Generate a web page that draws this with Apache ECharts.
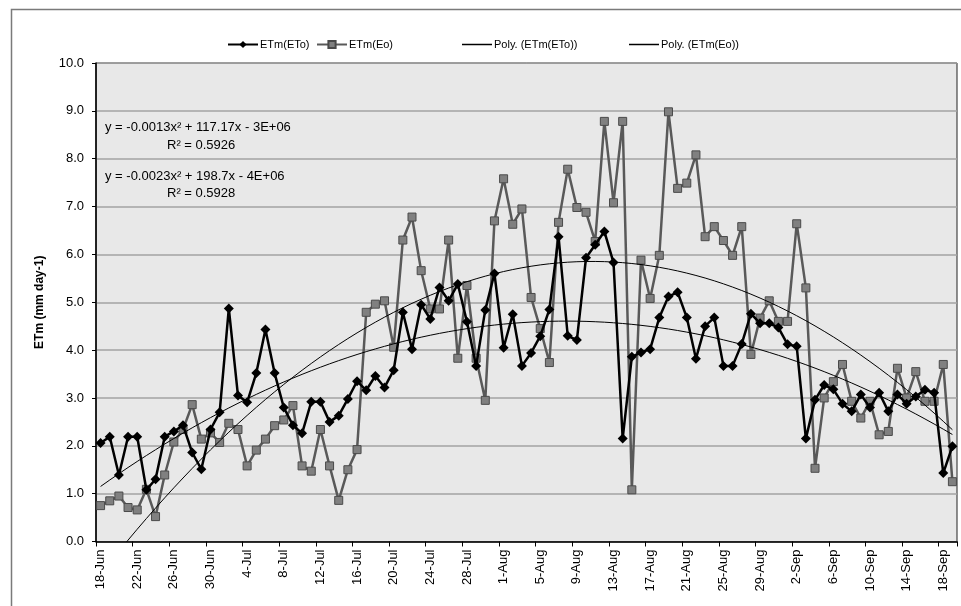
<!DOCTYPE html>
<html><head><meta charset="utf-8">
<script src="https://cdn.jsdelivr.net/npm/echarts@6/dist/echarts.min.js"></script>
<style>html,body{margin:0;padding:0;background:#fff}#c{width:961px;height:606px}</style>
</head><body><div id="c"></div>
<script>
// Categories: daily dates 18-Jun .. 19-Sep
const startDate = [6, 18]; // month, day
const monthNames = ['Jan','Feb','Mar','Apr','May','Jun','Jul','Aug','Sep','Oct','Nov','Dec'];
const nDays = 94;
const categories = [];
(function(){
  const d = new Date(2012, startDate[0]-1, startDate[1]);
  for (let i = 0; i < nDays; i++) {
    categories.push(d.getDate() + '-' + monthNames[d.getMonth()]);
    d.setDate(d.getDate() + 1);
  }
})();

const etmETo = [2.06,2.19,1.39,2.19,2.19,1.08,1.30,2.19,2.30,2.43,1.86,1.51,2.34,2.70,4.87,3.05,2.91,3.52,4.43,3.52,
  2.80,2.43,2.26,2.92,2.92,2.50,2.63,2.98,3.35,3.16,3.46,3.22,3.58,4.79,4.02,4.95,4.65,5.31,5.03,5.38,
  4.59,3.67,4.84,5.60,4.05,4.75,3.67,3.94,4.29,4.85,6.37,4.30,4.21,5.93,6.20,6.48,5.83,2.15,3.86,3.95,
  4.02,4.68,5.12,5.21,4.68,3.82,4.50,4.68,3.67,3.67,4.13,4.76,4.56,4.56,4.47,4.12,4.08,2.15,2.96,3.27,
  3.18,2.88,2.72,3.07,2.80,3.11,2.72,3.07,2.88,3.03,3.17,3.11,1.43,1.99];

const etmEo = [0.75,0.85,0.95,0.71,0.66,1.09,0.52,1.39,2.08,2.34,2.86,2.14,2.27,2.07,2.47,2.34,1.58,1.91,2.14,2.42,
  2.54,2.84,1.58,1.47,2.34,1.58,0.86,1.50,1.92,4.79,4.96,5.03,4.06,6.30,6.78,5.66,4.86,4.86,6.30,3.83,
  5.35,3.83,2.95,6.70,7.58,6.63,6.95,5.10,4.45,3.74,6.67,7.78,6.98,6.88,6.27,8.78,7.08,8.78,1.08,5.88,
  5.08,5.98,8.98,7.38,7.49,8.08,6.37,6.58,6.29,5.98,6.58,3.91,4.67,5.03,4.60,4.60,6.64,5.30,1.53,3.00,
  3.34,3.70,2.93,2.58,2.93,2.23,2.30,3.62,3.00,3.55,2.93,2.93,3.70,1.25];

const seriesNames = ['ETm(ETo)', 'ETm(Eo)', 'Poly. (ETm(ETo))', 'Poly. (ETm(Eo))'];
const yTicks = [0,1,2,3,4,5,6,7,8,9,10];
const equationLines = ['y = -0.0013x² + 117.17x - 3E+06', 'R² = 0.5926', 'y = -0.0023x² + 198.7x - 4E+06', 'R² = 0.5928'];

// Quadratic least-squares trendline (as the spreadsheet's polynomial trendline)
function polyFit2(ys) {
  const n = ys.length, xm = (n - 1) / 2;
  let s = [0,0,0,0,0], t = [0,0,0];
  for (let i = 0; i < n; i++) {
    const x = i - xm;
    let p = 1;
    for (let k = 0; k < 5; k++) { s[k] += p; if (k < 3) t[k] += p * ys[i]; p *= x; }
  }
  const M = [[s[0],s[1],s[2]],[s[1],s[2],s[3]],[s[2],s[3],s[4]]];
  const det = m => m[0][0]*(m[1][1]*m[2][2]-m[1][2]*m[2][1]) - m[0][1]*(m[1][0]*m[2][2]-m[1][2]*m[2][0]) + m[0][2]*(m[1][0]*m[2][1]-m[1][1]*m[2][0]);
  const D = det(M);
  const coef = [0,1,2].map(j => { const m = M.map((r, ri) => r.map((v, ci) => ci === j ? t[ri] : v)); return det(m) / D; });
  return ys.map((_, i) => { const x = i - xm; return coef[0] + coef[1]*x + coef[2]*x*x; });
}
const trendETo = polyFit2(etmETo);
const trendEo = polyFit2(etmEo);

const FONT = 'Liberation Sans, Arial, sans-serif';
const chart = echarts.init(document.getElementById('c'));

function legendAt(name, left, isTrend) {
  const item = isTrend ? { name: name, icon: 'rect', itemStyle: { color: '#000' } } : { name: name };
  return {
    data: [item], left: left, top: 39, itemWidth: 30, itemHeight: isTrend ? 1.5 : 9, itemGap: 0,
    textStyle: { fontFamily: FONT, fontSize: 11, color: '#000', padding: [0,0,0,-3] },
    padding: 0
  };
}

chart.setOption({
  animation: false,
  backgroundColor: '#fff',
  legend: [legendAt(seriesNames[0], 227, false), legendAt(seriesNames[1], 316, false), legendAt(seriesNames[2], 462, true), legendAt(seriesNames[3], 629, true)],
  grid: { left: 96, right: 4, top: 63, bottom: 64.5, show: true, backgroundColor: '#e8e8e8', borderColor: '#222', borderWidth: 1 },
  xAxis: {
    type: 'category', data: categories, boundaryGap: true,
    axisLine: { lineStyle: { color: '#000', width: 1.5 } },
    axisTick: { show: true, interval: 3, alignWithLabel: false, length: 5, lineStyle: { color: '#000' } },
    axisLabel: { interval: 3, rotate: 90, fontFamily: FONT, fontSize: 13, color: '#000', margin: 8 },
    splitLine: { show: false }
  },
  yAxis: {
    type: 'value', min: yTicks[0], max: yTicks[yTicks.length-1], interval: 1,
    name: 'ETm (mm day-1)', nameLocation: 'middle', nameGap: 50,
    nameTextStyle: { fontFamily: FONT, fontSize: 12, fontWeight: 'bold', color: '#000' },
    axisLine: { show: true, lineStyle: { color: '#000', width: 1.5 } },
    axisTick: { show: true, length: 4, lineStyle: { color: '#000' } },
    axisLabel: { fontFamily: FONT, fontSize: 13, color: '#000', margin: 12, formatter: v => v.toFixed(1) },
    splitLine: { show: true, lineStyle: { color: '#a3a3a3', width: 1.5 } }
  },
  series: [
    { name: seriesNames[0], type: 'line', data: etmETo, symbol: 'diamond', symbolSize: 10, showAllSymbol: true,
      lineStyle: { color: '#000', width: 2.5 }, itemStyle: { color: '#000' }, z: 4 },
    { name: seriesNames[1], type: 'line', data: etmEo, symbol: 'rect', symbolSize: 8, showAllSymbol: true,
      lineStyle: { color: '#595959', width: 2.5 }, itemStyle: { color: '#808080', borderColor: '#4a4a4a', borderWidth: 1 }, z: 3 },
    { name: seriesNames[2], type: 'line', data: trendETo, symbol: 'none', clip: true,
      lineStyle: { color: '#000', width: 1 }, itemStyle: { color: '#000' }, z: 5 },
    { name: seriesNames[3], type: 'line', data: trendEo, symbol: 'none', clip: true,
      lineStyle: { color: '#000', width: 1 }, itemStyle: { color: '#000' }, z: 5 }
  ],
  graphic: [
    { type: 'rect', left: 9, top: 7, shape: { width: 1000, height: 700 }, style: { fill: 'none', stroke: '#7a7a7a', lineWidth: 1.5 }, silent: true, z: 0 },
    { type: 'text', left: 105, top: 121, style: { text: equationLines[0], font: '13px ' + FONT, fill: '#000' }, z: 10 },
    { type: 'text', left: 167, top: 139, style: { text: equationLines[1], font: '13px ' + FONT, fill: '#000' }, z: 10 },
    { type: 'text', left: 105, top: 170, style: { text: equationLines[2], font: '13px ' + FONT, fill: '#000' }, z: 10 },
    { type: 'text', left: 167, top: 187, style: { text: equationLines[3], font: '13px ' + FONT, fill: '#000' }, z: 10 }
  ]
});
</script></body></html>
